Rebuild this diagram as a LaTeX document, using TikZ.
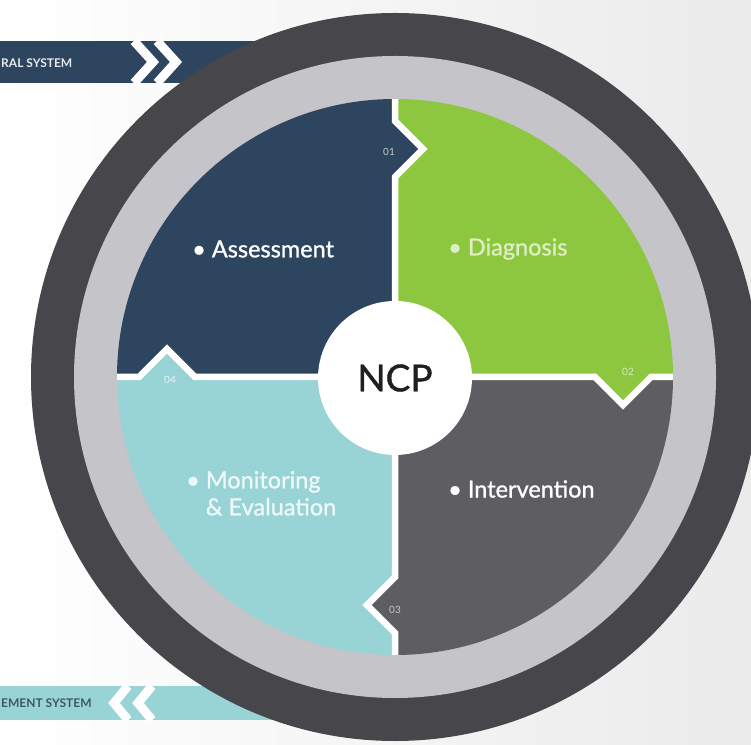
\documentclass[tikz,border=0pt]{standalone}
\usepackage{fontspec}
\setmainfont{Lato}
\newfontfamily\latomed[FakeBold=1.1]{Lato}
\definecolor{navy}{HTML}{2E4560}
\definecolor{leaf}{HTML}{8DC63F}
\definecolor{igray}{HTML}{5E5D61}
\definecolor{teal}{HTML}{98D3D5}
\definecolor{ringgray}{HTML}{C5C4C9}
\definecolor{ringdark}{HTML}{47464A}
\definecolor{bannertxt}{HTML}{3F5866}
\tikzset{
  quadlabel/.style={font=\latomed\fontsize{23.5}{27}\selectfont, anchor=west, inner sep=0pt, align=left},
  numlabel/.style={font=\fontsize{10}{12}\selectfont, inner sep=0pt},
  chev/.style={draw=white, line width=9pt, line join=miter},
  divider/.style={draw=white, line width=6.5pt, line join=miter},
  bannerlabel/.style={font=\bfseries\fontsize{12}{14}\selectfont, anchor=west, inner sep=0pt}
}
\begin{document}
\begin{tikzpicture}[x=1pt,y=1pt]
\useasboundingbox (0,0) rectangle (751,744);
% background
\shade[left color=white, right color=black!8] (0,0) rectangle (751,744);
% top banner (y px 41..83)
\fill[navy] (0,661) rectangle (300,703);
\draw[chev] (134,703) -- (153,682) -- (134,661);
\draw[chev] (157,703) -- (176,682) -- (157,661);
\node[bannerlabel, text=white!88!navy] (topbanner) at (1,681) {RAL SYSTEM};
% bottom banner (y px 686..720)
\fill[teal] (0,24) rectangle (300,58);
\draw[chev] (128,58) -- (114,41) -- (128,24);
\draw[chev] (152,58) -- (138,41) -- (152,24);
\node[bannerlabel, text=bannertxt] (botbanner) at (1,41) {EMENT SYSTEM};
% rings
\begin{scope}[shift={(395,367)}]
  \fill[ringdark] (0,0) circle (364);
  \fill[ringgray] (0,0) circle (321);
  \begin{scope}
    \clip (0,0) circle (278);
    \fill[navy] (0,0)--(0,200)--(28,228)--(0,256)--(0,300)--(-300,300)--(-300,0)--(-256,0)--(-228,28)--(-200,0)--cycle;
    \fill[leaf] (0,0)--(0,200)--(28,228)--(0,256)--(0,300)--(300,300)--(300,0)--(256,0)--(228,-28)--(200,0)--cycle;
    \fill[igray] (0,0)--(200,0)--(228,-28)--(256,0)--(300,0)--(300,-300)--(0,-300)--(0,-256)--(-28,-228)--(0,-200)--cycle;
    \fill[teal] (0,0)--(0,-200)--(-28,-228)--(0,-256)--(0,-300)--(-300,-300)--(-300,0)--(-256,0)--(-228,28)--(-200,0)--cycle;
    \draw[divider] (0,0)--(0,200)--(28,228)--(0,256)--(0,300);
    \draw[divider] (0,0)--(200,0)--(228,-28)--(256,0)--(300,0);
    \draw[divider] (0,0)--(0,-200)--(-28,-228)--(0,-256)--(0,-300);
    \draw[divider] (0,0)--(-200,0)--(-228,28)--(-256,0)--(-300,0);
  \end{scope}
  \node[circle, fill=white, minimum size=154pt, inner sep=0pt] (ncpc) at (0,-1) {};
  \node[font=\latomed\fontsize{37}{40}\selectfont, text=black!88, inner sep=0pt] (ncp) at (0,-1) {NCP};
  % numbers
  \node[numlabel, text=white!70!navy] (n01) at (-6,225) {01};
  \node[numlabel, text=white!65!leaf] (n02) at (233,5) {02};
  \node[numlabel, text=white!65!igray] (n03) at (0,-233) {03};
  \node[numlabel, text=white!75!teal] (n04) at (-225,-3) {04};
\end{scope}
% quadrant labels (px x, Y = 744 - y)
\node[quadlabel, text=white] (assess) at (192,495) {\textbullet\ Assessment};
\node[quadlabel, text=white!70!leaf] (diag) at (448,495) {\textbullet\ Diagnosis};
\node[quadlabel, text=white] (interv) at (448,255) {\textbullet\ Intervention};
\node[quadlabel, text=white!85!teal, anchor=north west] (monit) at (186,273) {\textbullet\ Monitoring\\\phantom{\textbullet\ }\& Evaluation};
\end{tikzpicture}
\end{document}
